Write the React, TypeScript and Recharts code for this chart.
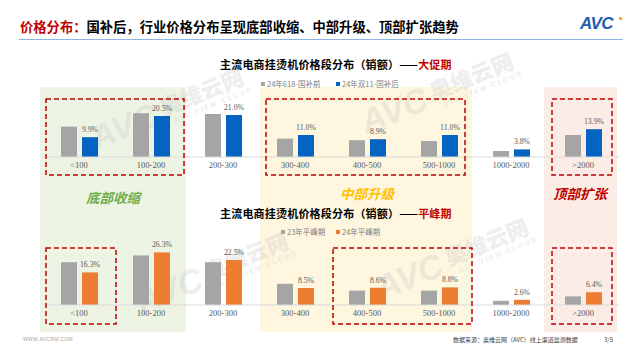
import React from 'react';
import { BarChart, Bar, XAxis, YAxis, LabelList } from 'recharts';

const priceBands = ['<100', '100-200', '200-300', '300-400', '400-500', '500-1000', '1000-2000', '>2000'];
// 大促期（销额占比 %）
const promoBefore = [15.2, 21.9, 21.5, 9.2, 8.4, 8.0, 3.0, 11.0];
const promoAfter = [9.9, 20.5, 21.0, 11.0, 8.9, 11.0, 3.8, 13.9];
// 平峰期（销额占比 %）
const offPeak23 = [21.4, 24.8, 21.4, 10.6, 7.2, 7.2, 2.1, 4.3];
const offPeak24 = [16.3, 26.3, 22.5, 8.5, 8.6, 8.8, 2.6, 6.4];

const promoLegend = ['24年618-国补前', '24年双11-国补后'];
const offPeakLegend = ['23年平峰期', '24年平峰期'];

const GRAY = '#A5A5A5';
const BLUE = '#0563C1';
const ORANGE = '#ED7D31';
const RED = '#C00000';
const SANS = '"Noto Sans CJK SC", "Liberation Sans", sans-serif';
const SERIF = '"Liberation Serif", "Noto Sans CJK SC", serif';

const promoData = priceBands.map((band, i) => ({ band, before: promoBefore[i], after: promoAfter[i] }));
const offPeakData = priceBands.map((band, i) => ({ band, before: offPeak23[i], after: offPeak24[i] }));

const pct = (v: any) => `${Number(v).toFixed(1)}%`;

const abs = (left: number, top: number, extra: React.CSSProperties = {}): React.CSSProperties => ({
  position: 'absolute',
  left,
  top,
  ...extra,
});

const PriceChart = ({ data, color, top }: { data: any[]; color: string; top: number }) => (
  <div style={abs(43, top)}>
    <BarChart
      width={576}
      height={90}
      data={data}
      margin={{ top: 10, right: 0, left: 0, bottom: 0 }}
      barGap={5}
      barCategoryGap="25%"
    >
      <XAxis
        dataKey="band"
        interval={0}
        height={20}
        tickLine={false}
        tickSize={3}
        tickMargin={2}
        axisLine={{ stroke: '#D9D9D9' }}
        tick={{ fontSize: 8.5, fill: '#595959', fontFamily: SERIF }}
      />
      <YAxis hide domain={[0, 30]} />
      <Bar dataKey="before" fill={GRAY} barSize={16} isAnimationActive={false} />
      <Bar dataKey="after" fill={color} barSize={16} isAnimationActive={false}>
        <LabelList
          dataKey="after"
          position="top"
          formatter={pct}
          style={{ fontSize: 7.8, fill: '#595959', fontFamily: SERIF }}
        />
      </Bar>
    </BarChart>
  </div>
);

const Legend = ({ names, colors, top, left }: { names: string[]; colors: string[]; top: number; left: number[] }) => (
  <>
    {names.map((n, i) => (
      <div
        key={n}
        style={abs(left[i], top, { fontSize: 7.5, color: '#7F7F7F', fontFamily: SANS, lineHeight: '10px', whiteSpace: 'nowrap' })}
      >
        <span style={{ display: 'inline-block', width: 4, height: 4, background: colors[i], marginRight: 2, verticalAlign: 1 }} />
        {n}
      </div>
    ))}
  </>
);

const Watermark = ({ x, y }: { x: number; y: number }) => (
  <div
    style={abs(x, y, {
      transform: 'translate(-50%, -50%) rotate(-22deg)',
      display: 'flex',
      alignItems: 'center',
      color: '#C8C8C8',
      opacity: 0.3,
      whiteSpace: 'nowrap',
      fontFamily: SANS,
      pointerEvents: 'none',
    })}
  >
    <span style={{ fontSize: 34, fontWeight: 900, fontStyle: 'italic', fontFamily: '"Liberation Sans", sans-serif' }}>AVC</span>
    <span style={{ display: 'flex', flexDirection: 'column', marginLeft: 6 }}>
      <span style={{ fontSize: 22, fontWeight: 900, lineHeight: '24px' }}>奥维云网</span>
      <span style={{ fontSize: 7, letterSpacing: 2, fontWeight: 700, marginLeft: 8 }}>ALL VIEW CLOUD</span>
    </span>
  </div>
);

const title = (text: string, accent: string, top: number) => (
  <div
    style={abs(220, top, {
      fontSize: 11,
      letterSpacing: 0.2,
      fontWeight: 700,
      fontFamily: SANS,
      color: '#000',
      whiteSpace: 'nowrap',
      lineHeight: '14px',
    })}
  >
    {text}——<span style={{ color: RED }}>{accent}</span>
  </div>
);

const stage = (text: string, color: string, cx: number, cy: number) => (
  <div
    style={abs(cx - 40, cy - 9, {
      width: 80,
      textAlign: 'center',
      fontSize: 13.5,
      fontWeight: 700,
      fontStyle: 'italic',
      color,
      fontFamily: SANS,
      lineHeight: '18px',
    })}
  >
    {text}
  </div>
);

export default function App() {
  const boxes = [
    [46, 99, 138, 76],
    [266, 99, 199, 76],
    [552, 99, 60, 76],
    [46, 248, 70, 76],
    [333, 248, 139, 76],
    [552, 248, 60, 76],
  ];
  return (
    <div style={abs(0, 0, { width: 640, height: 360, background: '#fff', overflow: 'hidden', fontFamily: SANS })}>
      {/* header */}
      <div style={abs(20, 17, { fontSize: 13.3, fontWeight: 700, lineHeight: '20px', whiteSpace: 'nowrap', color: '#000' })}>
        <span style={{ color: RED }}>价格分布：</span>国补后，行业价格分布呈现底部收缩、中部升级、顶部扩张趋势
      </div>
      <div style={abs(19, 39, { width: 604, height: 1, background: '#8DB4E2' })} />
      <div
        style={abs(580, 14, {
          fontSize: 17,
          fontWeight: 900,
          fontStyle: 'italic',
          color: '#1F5DAC',
          fontFamily: '"Liberation Sans", sans-serif',
          letterSpacing: -0.5,
          lineHeight: '20px',
        })}
      >
        AVC
      </div>
      <div style={abs(619, 17, { width: 3, height: 3, borderRadius: 2, background: '#F39800' })} />

      {/* stage panels */}
      <div style={abs(40, 87, { width: 146, height: 245, background: '#EDF4E4' })} />
      <div style={abs(260, 87, { width: 212, height: 245, background: '#FFF6DF' })} />
      <div style={abs(544, 87, { width: 73, height: 245, background: '#FBEDE5' })} />

      <Watermark x={170} y={108} />
      <Watermark x={440} y={92} />
      <Watermark x={215} y={272} />
      <Watermark x={455} y={258} />

      {title('主流电商挂烫机价格段分布（销额）', '大促期', 57)}
      <Legend names={promoLegend} colors={[GRAY, BLUE]} top={79} left={[261, 336]} />
      <PriceChart data={promoData} color={BLUE} top={87} />

      {stage('底部收缩', '#70AD47', 113, 197)}
      {stage('中部升级', '#FFC000', 367, 193)}
      {stage('顶部扩张', RED, 580, 193)}

      {title('主流电商挂烫机价格段分布（销额）', '平峰期', 206)}
      <Legend names={offPeakLegend} colors={[GRAY, ORANGE]} top={227} left={[281, 336]} />
      <PriceChart data={offPeakData} color={ORANGE} top={235} />

      <svg width={640} height={360} style={abs(0, 0, { pointerEvents: 'none' })}>
        {boxes.map(([x, y, w, h], i) => (
          <rect key={i} x={x} y={y} width={w} height={h} fill="none" stroke={RED} strokeWidth={1.5} strokeDasharray="5 3" />
        ))}
      </svg>

      {/* footer */}
      <div style={abs(23, 336, { fontSize: 5, color: '#A6A6A6', letterSpacing: 0.3, fontFamily: '"Liberation Sans", sans-serif' })}>
        WWW.AVCRM.COM
      </div>
      <div style={abs(453, 335, { fontSize: 6, color: '#404040', whiteSpace: 'nowrap' })}>数据来源：奥维云网（AVC）线上渠道监测数据</div>
      <div style={abs(604, 335, { fontSize: 6, color: '#404040' })}>3/5</div>
    </div>
  );
}
